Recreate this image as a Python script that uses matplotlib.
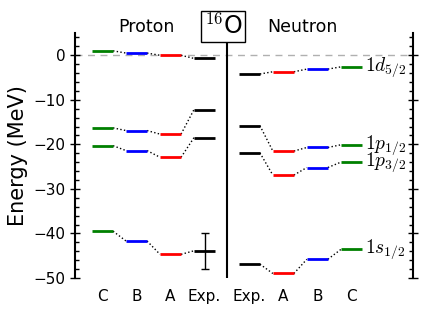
import matplotlib
matplotlib.use("Agg")
import matplotlib.pyplot as plt
import numpy as np

plt.rcParams['mathtext.fontset'] = 'cm'

# Columns (left to right)
columns = ["C", "B", "A", "Exp.", "Exp.", "A", "B", "C"]
col_colors = ["green", "blue", "red", "black", "black", "red", "blue", "green"]
col_x = [0, 1, 2, 3, 4.32, 5.32, 6.32, 7.32]

levels = [r"$1d_{5/2}$", r"$1p_{1/2}$", r"$1p_{3/2}$", r"$1s_{1/2}$"]

# Proton energies (columns C, B, A, Exp.)
proton = {
    r"$1d_{5/2}$": [1.0, 0.5, 0.0, -0.7],
    r"$1p_{1/2}$": [-16.3, -16.9, -17.7, -12.2],
    r"$1p_{3/2}$": [-20.3, -21.4, -22.9, -18.5],
    r"$1s_{1/2}$": [-39.5, -41.7, -44.7, -43.9],
}
# Neutron energies (columns Exp., A, B, C)
neutron = {
    r"$1d_{5/2}$": [-4.2, -3.7, -3.1, -2.6],
    r"$1p_{1/2}$": [-15.8, -21.5, -20.7, -20.1],
    r"$1p_{3/2}$": [-21.9, -26.9, -25.2, -24.0],
    r"$1s_{1/2}$": [-46.9, -49.0, -45.8, -43.6],
}
proton_1s_exp_err = 4.0

fig = plt.figure(figsize=(4.36, 3.27), dpi=100)
ax = fig.add_axes([0.172, 0.150, 0.775, 0.749])

hw = 0.31
for lev in levels:
    for vals, xs, cols in [(proton[lev], col_x[:4], col_colors[:4]),
                           (neutron[lev], col_x[4:], col_colors[4:])]:
        for i, (x, v, c) in enumerate(zip(xs, vals, cols)):
            ax.plot([x - hw, x + hw], [v, v], color=c, lw=2, solid_capstyle='butt', zorder=3)
            if i < len(xs) - 1:
                ax.plot([x + hw, xs[i + 1] - hw], [v, vals[i + 1]], color='black',
                        lw=1, ls=':', zorder=2)
    ax.text(col_x[-1] + hw + 0.1, neutron[lev][-1], lev, fontsize=14,
            va='center', ha='left')

ax.errorbar([col_x[3]], [proton[r"$1s_{1/2}$"][3]], yerr=[proton_1s_exp_err],
            fmt='none', ecolor='black', elinewidth=1, capsize=3, zorder=4)

ax.axhline(0, color='#b0b0b0', ls=(0, (5, 4)), lw=1, zorder=1)
sep = (col_x[3] + col_x[4]) / 2
ax.axvline(sep, color='black', lw=1.5, zorder=1)

ax.set_xlim(-0.81, 9.13)
ax.set_ylim(-50, 5)
ax.set_xticks(col_x)
ax.set_xticklabels(columns, fontsize=11)
ax.tick_params(axis='x', length=0, pad=8)
ax.set_yticks([0, -10, -20, -30, -40, -50])
ax.set_yticks(np.arange(-50, 5, 2), minor=True)
ax.tick_params(axis='y', which='major', direction='inout', length=7, width=1,
               labelsize=11, right=True)
ax.tick_params(axis='y', which='minor', direction='in', length=3, width=1, right=True)
ax.spines['top'].set_visible(False)
ax.spines['bottom'].set_visible(False)
for s in ['left', 'right']:
    ax.spines[s].set_linewidth(1.5)

ax.set_ylabel("Energy (MeV)", fontsize=15)

ax.text(1.29, 1.025, "Proton", transform=ax.get_xaxis_transform(), ha='center',
        va='center', fontsize=12.5)
ax.text(5.88, 1.025, "Neutron", transform=ax.get_xaxis_transform(), ha='center',
        va='center', fontsize=12.5)
ax.text(sep - 0.12, 1.027, r"$^{16}$O", transform=ax.get_xaxis_transform(),
        ha='center', va='center', fontsize=17, zorder=10,
        bbox=dict(boxstyle='square,pad=0.12', fc='white', ec='black', lw=1))

fig.savefig("out.png", dpi=100)
